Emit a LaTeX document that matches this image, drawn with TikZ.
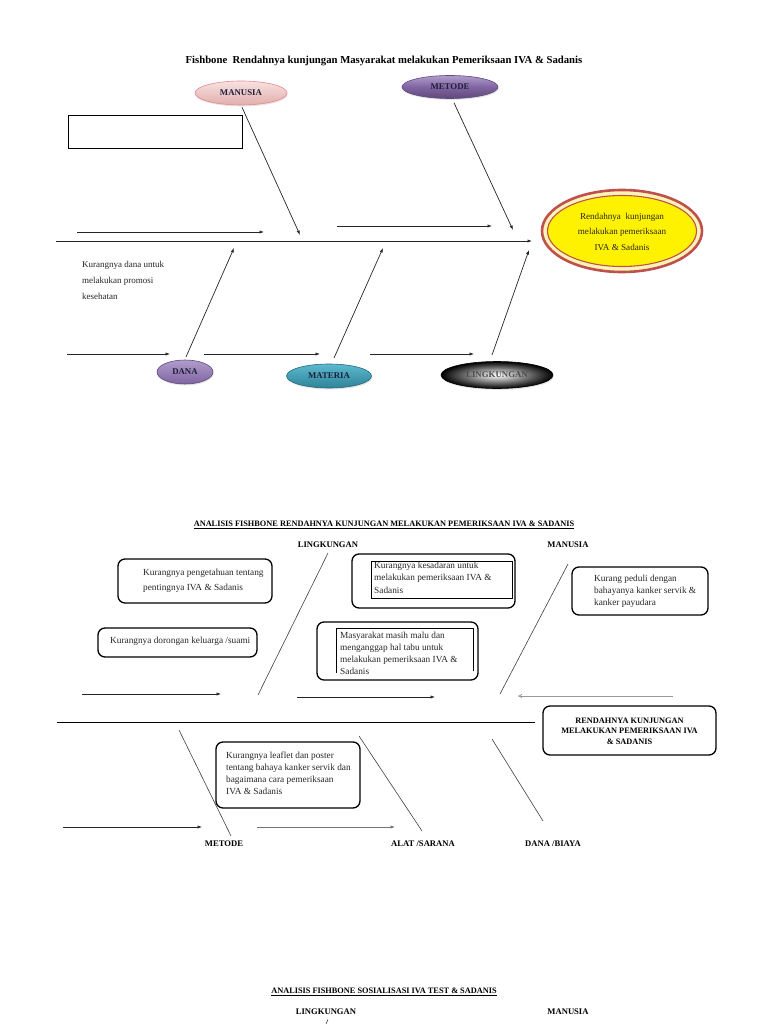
\documentclass[tikz,border=0pt]{standalone}
\usepackage{fontspec}
\setmainfont{Liberation Serif}
\usetikzlibrary{shapes.geometric,arrows.meta,shadows}
\definecolor{txtd}{HTML}{1F1F3A}
\definecolor{effred}{HTML}{C0504D}
\definecolor{pinkA}{HTML}{F6E2E1}
\definecolor{pinkB}{HTML}{E2AEAD}
\definecolor{purA}{HTML}{B09DCC}
\definecolor{purB}{HTML}{8064A2}
\definecolor{purC}{HTML}{5F497A}
\definecolor{tealA}{HTML}{5CB9CF}
\definecolor{tealB}{HTML}{2E8398}
\definecolor{cream}{HTML}{FFF4B8}
\begin{document}
\begin{tikzpicture}[x=1pt,y=-1pt,
  arr/.style={-{Latex[length=4.5pt,width=3.2pt]},line width=0.7pt,draw=black!85},
  bone/.style={line width=0.6pt,draw=black!75},
  elab/.style={ellipse,inner sep=0pt,font=\fontsize{8.8}{10}\selectfont\bfseries,text=txtd,
    drop shadow={shadow xshift=0.6pt,shadow yshift=-1.4pt,opacity=0.22}},
  rbox/.style={draw,rounded corners=7pt,line width=1.3pt,inner sep=0pt},
  body/.style={align=left,inner sep=0pt,anchor=base west,text=black!85},
  head/.style={font=\fontsize{8.6}{10}\selectfont\bfseries,inner sep=0pt},
  ttl/.style={font=\fontsize{8.3}{10}\selectfont\bfseries,inner sep=0pt},
]
\useasboundingbox[fill=white] (0,0) rectangle (768,1024);

% ================= Diagram 1 =================
\node[font=\fontsize{10.7}{12}\selectfont\bfseries,inner sep=0pt] (title1) at (384,61)
  {Fishbone\ \ Rendahnya kunjungan Masyarakat melakukan Pemeriksaan IVA \& Sadanis};

\node[elab,minimum width=92pt,minimum height=24pt,top color=pinkA,bottom color=pinkB,draw=pinkB!80!red,line width=0.6pt] (eMan) at (241,93) {MANUSIA};
\node[elab,minimum width=96pt,minimum height=23pt,top color=purA,bottom color=purC,middle color=purB,draw=purC,line width=0.6pt] (eMet) at (450,87) {METODE};

\node[draw,line width=0.9pt,minimum width=174pt,minimum height=33pt,inner sep=0pt] (blank) at (155,131.5) {};

% effect ellipse
\node[ellipse,minimum width=160pt,minimum height=82pt,draw=effred,line width=2.6pt,fill=cream] (eff) at (622,231) {};
\node[ellipse,minimum width=149pt,minimum height=71pt,draw=effred,line width=1.1pt,fill=yellow] (effin) at (622,231) {};
\node[align=center,inner sep=0pt,anchor=base,font=\fontsize{9.1}{16}\selectfont,text=black!85] (efftxt) at (622,251)
  {Rendahnya\ \ kunjungan\\melakukan pemeriksaan\\IVA \& Sadanis};

% spine and arrows
\coordinate (s1a) at (56,241);
\coordinate (s1b) at (532,241);
\draw[arr] (s1a) -- (s1b);
\coordinate (u1a) at (77,232);  \coordinate (u1b) at (264,232);
\coordinate (u2a) at (337,226); \coordinate (u2b) at (492,226);
\draw[arr] (u1a) -- (u1b);
\draw[arr] (u2a) -- (u2b);
\coordinate (manEnd) at (300,235);
\coordinate (metEnd) at (513,230);
\draw[arr] ([shift={(1,2)}]eMan.south) -- (manEnd);
\draw[arr] ([shift={(4,4)}]eMet.south) -- (metEnd);

\node[body,font=\fontsize{9}{16}\selectfont] (dnote) at (82,299)
  {Kurangnya dana untuk\\melakukan promosi\\kesehatan};

% bottom row
\node[elab,minimum width=56pt,minimum height=24pt,top color=purA,bottom color=purB,draw=purC,line width=0.6pt] (eDana) at (185,372) {DANA};
\node[elab,minimum width=85pt,minimum height=24pt,top color=tealA,bottom color=tealB,draw=tealB!80!black,line width=0.6pt] (eMat) at (329,376) {MATERIA};
\node[elab,minimum width=112pt,minimum height=27pt,inner color=white,outer color=black,draw=black,line width=0.6pt,text=black!70] (eLing) at (497,375) {LINGKUNGAN};

\coordinate (b1a) at (67,354);  \coordinate (b1b) at (170,354);
\coordinate (b2a) at (204,354); \coordinate (b2b) at (320,354);
\coordinate (b3a) at (370,354); \coordinate (b3b) at (474,354);
\draw[arr] (b1a) -- (b1b);
\draw[arr] (b2a) -- (b2b);
\draw[arr] (b3a) -- (b3b);
\coordinate (d1a) at (186,357); \coordinate (d1b) at (234,248);
\coordinate (d2a) at (334,358); \coordinate (d2b) at (383,248);
\coordinate (d3a) at (492,355); \coordinate (d3b) at (529,250);
\draw[arr] (d1a) -- (d1b);
\draw[arr] (d2a) -- (d2b);
\draw[arr] (d3a) -- (d3b);

% ================= Diagram 2 =================
\node[ttl] (title2) at (384,525)
  {\underline{ANALISIS FISHBONE RENDAHNYA KUNJUNGAN MELAKUKAN PEMERIKSAAN IVA \& SADANIS}};
\node[head] (hdL) at (328,545) {LINGKUNGAN};
\node[head] (hdM) at (568,545) {MANUSIA};

% Box A
\node[rbox,minimum width=154pt,minimum height=44pt] (bA) at (195,581) {};
\node[body,font=\fontsize{9.3}{15}\selectfont] (tA) at (143,590)
  {Kurangnya pengetahuan tentang\\pentingnya IVA \& Sadanis};
% Box B
\node[rbox,minimum width=159pt,minimum height=29pt] (bB) at (177.5,642.5) {};
\node[body,font=\fontsize{9.3}{12}\selectfont] (tB) at (110,643)
  {Kurangnya dorongan keluarga /suami};
% Box C
\node[rbox,minimum width=163pt,minimum height=54pt] (bC) at (433.5,581) {};
\node[draw,line width=0.7pt,minimum width=141pt,minimum height=37pt,inner sep=0pt] (bCi) at (441.5,579.5) {};
\node[body,font=\fontsize{9.3}{12.5}\selectfont] (tC) at (374,593)
  {Kurangnya kesadaran untuk\\melakukan pemeriksaan IVA \&\\Sadanis};
% Box D
\node[rbox,minimum width=161pt,minimum height=58pt] (bD) at (397.5,651) {};
\coordinate (dI1) at (336,673); \coordinate (dI2) at (336,628);
\coordinate (dI3) at (473,628); \coordinate (dI4) at (473,671);
\draw[line width=0.7pt] (dI1) -- (dI2) -- (dI3) -- (dI4);
\node[body,font=\fontsize{9.3}{11.7}\selectfont] (tD) at (340,674)
  {Masyarakat masih malu dan\\menganggap hal tabu untuk\\melakukan pemeriksaan IVA \&\\Sadanis};
% Box E
\node[rbox,minimum width=136pt,minimum height=48pt] (bE) at (640,591) {};
\node[body,font=\fontsize{9.3}{12}\selectfont] (tE) at (594,605)
  {Kurang peduli dengan\\bahayanya kanker servik \&\\kanker payudara};

% bones upper
\coordinate (l2a) at (328,553); \coordinate (l2b) at (258,695);
\coordinate (m2a) at (568,564); \coordinate (m2b) at (500,694);
\draw[bone] (l2a) -- (l2b);
\draw[bone] (m2a) -- (m2b);
\coordinate (p1a) at (82,694);  \coordinate (p1b) at (221,694);
\coordinate (p2a) at (297,697); \coordinate (p2b) at (435,697);
\draw[arr,line width=0.6pt] (p1a) -- (p1b);
\draw[arr,line width=0.6pt] (p2a) -- (p2b);
\coordinate (g1a) at (673,696); \coordinate (g1b) at (518,696);
\draw[-{To[length=4pt,width=4pt]},line width=0.8pt,draw=black!40] (g1a) -- (g1b);

% spine 2
\coordinate (s2a) at (57,722); \coordinate (s2b) at (535,722);
\draw[line width=0.8pt] (s2a) -- (s2b);
% Box F
\node[rbox,minimum width=173pt,minimum height=49pt] (bF) at (629.5,730.5) {};
\node[align=center,inner sep=0pt,anchor=base,font=\fontsize{8.3}{10.5}\selectfont\bfseries] (tF) at (629.5,744)
  {RENDAHNYA KUNJUNGAN\\MELAKUKAN PEMERIKSAAN IVA\\\& SADANIS};

% bones lower
\coordinate (mt2a) at (179,730); \coordinate (mt2b) at (231,836);
\coordinate (al2a) at (359,736); \coordinate (al2b) at (422,831);
\coordinate (dn2a) at (492,739); \coordinate (dn2b) at (543,821);
\draw[bone] (mt2a) -- (mt2b);
\draw[bone] (al2a) -- (al2b);
\draw[bone] (dn2a) -- (dn2b);
% Box G
\node[rbox,minimum width=144pt,minimum height=66pt] (bG) at (288,775) {};
\node[body,font=\fontsize{9.3}{12}\selectfont] (tG) at (226,794)
  {Kurangnya leaflet dan poster\\tentang bahaya kanker servik dan\\bagaimana cara pemeriksaan\\IVA \& Sadanis};
\coordinate (q1a) at (63,827);  \coordinate (q1b) at (202,827);
\coordinate (q2a) at (257,827); \coordinate (q2b) at (395,827);
\draw[arr,line width=0.6pt] (q1a) -- (q1b);
\draw[arr,line width=0.6pt,draw=black!55] (q2a) -- (q2b);
\node[head] (hdMet) at (224,844) {METODE};
\node[head] (hdAl) at (423,844) {ALAT /SARANA};
\node[head] (hdDn) at (553,844) {DANA /BIAYA};

% ================= Diagram 3 (partial) =================
\node[ttl] (title3) at (384,992)
  {\underline{ANALISIS FISHBONE SOSIALISASI IVA TEST \& SADANIS}};
\node[head] (hdL3) at (326,1012) {LINGKUNGAN};
\node[head] (hdM3) at (568,1012) {MANUSIA};
\coordinate (l3a) at (328,1019.5); \coordinate (l3b) at (326,1024);
\draw[bone] (l3a) -- (l3b);
\end{tikzpicture}
\end{document}
